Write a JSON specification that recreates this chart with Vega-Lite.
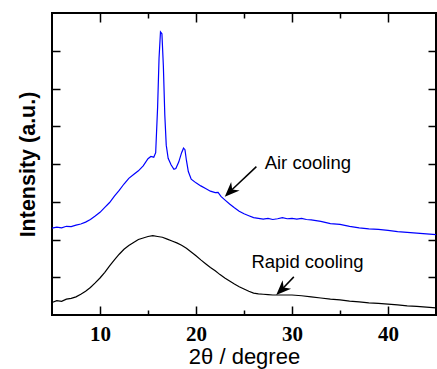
{
  "$schema": "https://vega.github.io/schema/vega-lite/v6.json",
  "width": 384,
  "height": 302,
  "autosize": {"type": "none"},
  "padding": {"left": 52, "top": 13, "right": 1, "bottom": 54},
  "background": "white",
  "config": {
    "view": {"stroke": "black", "strokeWidth": 2},
    "axis": {"domain": false, "grid": false, "tickColor": "black", "tickWidth": 1.5}
  },
  "datasets": {
    "xrd": [
      {"sample": "Air cooling", "x": 5.0, "y": 2.30}, {"sample": "Air cooling", "x": 5.5, "y": 2.33}, {"sample": "Air cooling", "x": 6.0, "y": 2.31}, {"sample": "Air cooling", "x": 6.5, "y": 2.35}, {"sample": "Air cooling", "x": 7.0, "y": 2.34}, {"sample": "Air cooling", "x": 7.5, "y": 2.38}, {"sample": "Air cooling", "x": 8.0, "y": 2.41}, {"sample": "Air cooling", "x": 8.5, "y": 2.46}, {"sample": "Air cooling", "x": 9.0, "y": 2.53}, {"sample": "Air cooling", "x": 9.5, "y": 2.62}, {"sample": "Air cooling", "x": 10.0, "y": 2.72}, {"sample": "Air cooling", "x": 10.5, "y": 2.85}, {"sample": "Air cooling", "x": 11.0, "y": 2.98}, {"sample": "Air cooling", "x": 11.5, "y": 3.15}, {"sample": "Air cooling", "x": 12.0, "y": 3.30}, {"sample": "Air cooling", "x": 12.5, "y": 3.47}, {"sample": "Air cooling", "x": 13.0, "y": 3.62}, {"sample": "Air cooling", "x": 13.5, "y": 3.72}, {"sample": "Air cooling", "x": 14.0, "y": 3.82}, {"sample": "Air cooling", "x": 14.5, "y": 3.95}, {"sample": "Air cooling", "x": 15.0, "y": 4.14}, {"sample": "Air cooling", "x": 15.3, "y": 4.20}, {"sample": "Air cooling", "x": 15.6, "y": 4.18}, {"sample": "Air cooling", "x": 15.8, "y": 4.30}, {"sample": "Air cooling", "x": 16.0, "y": 5.5}, {"sample": "Air cooling", "x": 16.15, "y": 6.8}, {"sample": "Air cooling", "x": 16.3, "y": 7.5}, {"sample": "Air cooling", "x": 16.45, "y": 7.45}, {"sample": "Air cooling", "x": 16.6, "y": 6.6}, {"sample": "Air cooling", "x": 16.75, "y": 5.3}, {"sample": "Air cooling", "x": 16.9, "y": 4.5}, {"sample": "Air cooling", "x": 17.1, "y": 4.15}, {"sample": "Air cooling", "x": 17.4, "y": 3.98}, {"sample": "Air cooling", "x": 17.7, "y": 3.86}, {"sample": "Air cooling", "x": 17.9, "y": 3.88}, {"sample": "Air cooling", "x": 18.2, "y": 4.05}, {"sample": "Air cooling", "x": 18.5, "y": 4.30}, {"sample": "Air cooling", "x": 18.7, "y": 4.42}, {"sample": "Air cooling", "x": 18.85, "y": 4.38}, {"sample": "Air cooling", "x": 19.0, "y": 4.10}, {"sample": "Air cooling", "x": 19.2, "y": 3.80}, {"sample": "Air cooling", "x": 19.5, "y": 3.60}, {"sample": "Air cooling", "x": 20.0, "y": 3.50}, {"sample": "Air cooling", "x": 20.5, "y": 3.42}, {"sample": "Air cooling", "x": 21.0, "y": 3.35}, {"sample": "Air cooling", "x": 21.5, "y": 3.28}, {"sample": "Air cooling", "x": 22.0, "y": 3.24}, {"sample": "Air cooling", "x": 22.3, "y": 3.25}, {"sample": "Air cooling", "x": 22.6, "y": 3.14}, {"sample": "Air cooling", "x": 23.0, "y": 3.05}, {"sample": "Air cooling", "x": 23.5, "y": 2.94}, {"sample": "Air cooling", "x": 24.0, "y": 2.84}, {"sample": "Air cooling", "x": 24.5, "y": 2.75}, {"sample": "Air cooling", "x": 25.0, "y": 2.68}, {"sample": "Air cooling", "x": 25.5, "y": 2.63}, {"sample": "Air cooling", "x": 26.0, "y": 2.58}, {"sample": "Air cooling", "x": 26.5, "y": 2.56}, {"sample": "Air cooling", "x": 27.0, "y": 2.54}, {"sample": "Air cooling", "x": 27.5, "y": 2.56}, {"sample": "Air cooling", "x": 28.0, "y": 2.53}, {"sample": "Air cooling", "x": 28.5, "y": 2.55}, {"sample": "Air cooling", "x": 29.0, "y": 2.58}, {"sample": "Air cooling", "x": 29.5, "y": 2.55}, {"sample": "Air cooling", "x": 30.0, "y": 2.56}, {"sample": "Air cooling", "x": 30.5, "y": 2.54}, {"sample": "Air cooling", "x": 31.0, "y": 2.56}, {"sample": "Air cooling", "x": 31.5, "y": 2.53}, {"sample": "Air cooling", "x": 32.0, "y": 2.52}, {"sample": "Air cooling", "x": 33.0, "y": 2.48}, {"sample": "Air cooling", "x": 34.0, "y": 2.42}, {"sample": "Air cooling", "x": 35.0, "y": 2.40}, {"sample": "Air cooling", "x": 36.0, "y": 2.35}, {"sample": "Air cooling", "x": 37.0, "y": 2.31}, {"sample": "Air cooling", "x": 38.0, "y": 2.28}, {"sample": "Air cooling", "x": 39.0, "y": 2.27}, {"sample": "Air cooling", "x": 40.0, "y": 2.24}, {"sample": "Air cooling", "x": 41.0, "y": 2.21}, {"sample": "Air cooling", "x": 42.0, "y": 2.19}, {"sample": "Air cooling", "x": 43.0, "y": 2.17}, {"sample": "Air cooling", "x": 44.0, "y": 2.15}, {"sample": "Air cooling", "x": 45.0, "y": 2.13},
      {"sample": "Rapid cooling", "x": 5.0, "y": 0.33}, {"sample": "Rapid cooling", "x": 5.5, "y": 0.38}, {"sample": "Rapid cooling", "x": 6.0, "y": 0.36}, {"sample": "Rapid cooling", "x": 6.5, "y": 0.42}, {"sample": "Rapid cooling", "x": 7.0, "y": 0.44}, {"sample": "Rapid cooling", "x": 7.5, "y": 0.48}, {"sample": "Rapid cooling", "x": 8.0, "y": 0.55}, {"sample": "Rapid cooling", "x": 8.5, "y": 0.63}, {"sample": "Rapid cooling", "x": 9.0, "y": 0.73}, {"sample": "Rapid cooling", "x": 9.5, "y": 0.85}, {"sample": "Rapid cooling", "x": 10.0, "y": 0.98}, {"sample": "Rapid cooling", "x": 10.5, "y": 1.13}, {"sample": "Rapid cooling", "x": 11.0, "y": 1.30}, {"sample": "Rapid cooling", "x": 11.5, "y": 1.46}, {"sample": "Rapid cooling", "x": 12.0, "y": 1.61}, {"sample": "Rapid cooling", "x": 12.5, "y": 1.74}, {"sample": "Rapid cooling", "x": 13.0, "y": 1.84}, {"sample": "Rapid cooling", "x": 13.5, "y": 1.92}, {"sample": "Rapid cooling", "x": 14.0, "y": 2.00}, {"sample": "Rapid cooling", "x": 14.5, "y": 2.04}, {"sample": "Rapid cooling", "x": 15.0, "y": 2.08}, {"sample": "Rapid cooling", "x": 15.5, "y": 2.10}, {"sample": "Rapid cooling", "x": 16.0, "y": 2.08}, {"sample": "Rapid cooling", "x": 16.5, "y": 2.06}, {"sample": "Rapid cooling", "x": 17.0, "y": 2.01}, {"sample": "Rapid cooling", "x": 17.5, "y": 1.96}, {"sample": "Rapid cooling", "x": 18.0, "y": 1.91}, {"sample": "Rapid cooling", "x": 18.5, "y": 1.85}, {"sample": "Rapid cooling", "x": 19.0, "y": 1.77}, {"sample": "Rapid cooling", "x": 19.5, "y": 1.67}, {"sample": "Rapid cooling", "x": 20.0, "y": 1.57}, {"sample": "Rapid cooling", "x": 20.5, "y": 1.46}, {"sample": "Rapid cooling", "x": 21.0, "y": 1.36}, {"sample": "Rapid cooling", "x": 21.5, "y": 1.26}, {"sample": "Rapid cooling", "x": 22.0, "y": 1.17}, {"sample": "Rapid cooling", "x": 22.5, "y": 1.07}, {"sample": "Rapid cooling", "x": 23.0, "y": 0.98}, {"sample": "Rapid cooling", "x": 23.5, "y": 0.90}, {"sample": "Rapid cooling", "x": 24.0, "y": 0.82}, {"sample": "Rapid cooling", "x": 24.5, "y": 0.75}, {"sample": "Rapid cooling", "x": 25.0, "y": 0.69}, {"sample": "Rapid cooling", "x": 25.5, "y": 0.63}, {"sample": "Rapid cooling", "x": 26.0, "y": 0.58}, {"sample": "Rapid cooling", "x": 26.5, "y": 0.56}, {"sample": "Rapid cooling", "x": 27.0, "y": 0.55}, {"sample": "Rapid cooling", "x": 27.5, "y": 0.54}, {"sample": "Rapid cooling", "x": 28.0, "y": 0.53}, {"sample": "Rapid cooling", "x": 29.0, "y": 0.53}, {"sample": "Rapid cooling", "x": 30.0, "y": 0.53}, {"sample": "Rapid cooling", "x": 31.0, "y": 0.51}, {"sample": "Rapid cooling", "x": 32.0, "y": 0.48}, {"sample": "Rapid cooling", "x": 33.0, "y": 0.45}, {"sample": "Rapid cooling", "x": 34.0, "y": 0.42}, {"sample": "Rapid cooling", "x": 35.0, "y": 0.40}, {"sample": "Rapid cooling", "x": 36.0, "y": 0.37}, {"sample": "Rapid cooling", "x": 37.0, "y": 0.35}, {"sample": "Rapid cooling", "x": 38.0, "y": 0.32}, {"sample": "Rapid cooling", "x": 39.0, "y": 0.31}, {"sample": "Rapid cooling", "x": 40.0, "y": 0.29}, {"sample": "Rapid cooling", "x": 41.0, "y": 0.27}, {"sample": "Rapid cooling", "x": 42.0, "y": 0.24}, {"sample": "Rapid cooling", "x": 43.0, "y": 0.23}, {"sample": "Rapid cooling", "x": 44.0, "y": 0.21}, {"sample": "Rapid cooling", "x": 45.0, "y": 0.19}
    ],
    "arrows": [
      {"x": 26.29, "y": 3.93, "hx": 23.55, "hy": 3.27},
      {"x": 30.19, "y": 1.01, "hx": 28.91, "hy": 0.67}
    ],
    "labels": [
      {"label": "Air cooling", "x": 27.15, "y": 4.03},
      {"label": "Rapid cooling", "x": 25.77, "y": 1.41}
    ]
  },
  "layer": [
    {
      "data": {"name": "xrd"},
      "mark": {"type": "line", "strokeWidth": 1.2},
      "encoding": {
        "x": {"field": "x", "type": "quantitative", "scale": {"domain": [5, 45], "nice": false, "zero": false},
          "axis": {"orient": "bottom", "values": [10, 15, 20, 25, 30, 35, 40],
            "labelExpr": "datum.value % 10 === 0 ? datum.label : ''",
            "tickSize": {"condition": {"test": "datum.value % 10 === 0", "value": -9}, "value": -5},
            "labelFont": "Liberation Serif", "labelFontSize": 21, "labelFontWeight": "bold", "labelColor": "black", "labelPadding": 17,
            "title": "2θ / degree", "titleFont": "Liberation Sans", "titleFontSize": 22, "titleFontWeight": "normal", "titleColor": "black", "titlePadding": 2}},
        "y": {"field": "y", "type": "quantitative", "scale": {"domain": [0, 8], "nice": false, "zero": false},
          "axis": {"orient": "left", "values": [1, 2, 3, 4, 5, 6, 7], "labels": false, "tickSize": -8,
            "title": "Intensity (a.u.)", "titleFont": "Liberation Sans", "titleFontSize": 21.5, "titleFontWeight": "bold", "titleColor": "black", "titlePadding": 12}},
        "color": {"field": "sample", "type": "nominal", "scale": {"domain": ["Air cooling", "Rapid cooling"], "range": ["#0000ff", "#000000"]}, "legend": null}
      }
    },
    {
      "data": {"name": "arrows"},
      "mark": {"type": "rule", "color": "black", "strokeWidth": 1.5},
      "encoding": {
        "x": {"field": "x", "type": "quantitative", "scale": {"domain": [5, 45], "nice": false, "zero": false},
          "axis": {"orient": "top", "values": [10, 15, 20, 25, 30, 35, 40], "labels": false, "title": null,
            "tickSize": {"condition": {"test": "datum.value % 10 === 0", "value": -9}, "value": -5}}},
        "y": {"field": "y", "type": "quantitative", "scale": {"domain": [0, 8], "nice": false, "zero": false},
          "axis": {"orient": "right", "values": [1, 2, 3, 4, 5, 6, 7], "labels": false, "title": null, "tickSize": -8}},
        "x2": {"field": "hx"},
        "y2": {"field": "hy"}
      }
    },
    {
      "data": {"name": "arrows"},
      "mark": {"type": "point", "shape": "M0,-1L0.8,1L0,0.4L-0.8,1Z", "filled": true, "color": "black", "opacity": 1, "size": 225, "angle": 225},
      "encoding": {
        "x": {"field": "hx", "type": "quantitative", "scale": {"domain": [5, 45], "nice": false, "zero": false}, "axis": null},
        "y": {"field": "hy", "type": "quantitative", "scale": {"domain": [0, 8], "nice": false, "zero": false}, "axis": null}
      }
    },
    {
      "data": {"name": "labels"},
      "mark": {"type": "text", "align": "left", "baseline": "middle", "font": "Liberation Sans", "fontSize": 18.5, "color": "black"},
      "encoding": {
        "x": {"field": "x", "type": "quantitative", "scale": {"domain": [5, 45], "nice": false, "zero": false}, "axis": null},
        "y": {"field": "y", "type": "quantitative", "scale": {"domain": [0, 8], "nice": false, "zero": false}, "axis": null},
        "text": {"field": "label"}
      }
    }
  ],
  "resolve": {"axis": {"x": "independent", "y": "independent"}}
}
